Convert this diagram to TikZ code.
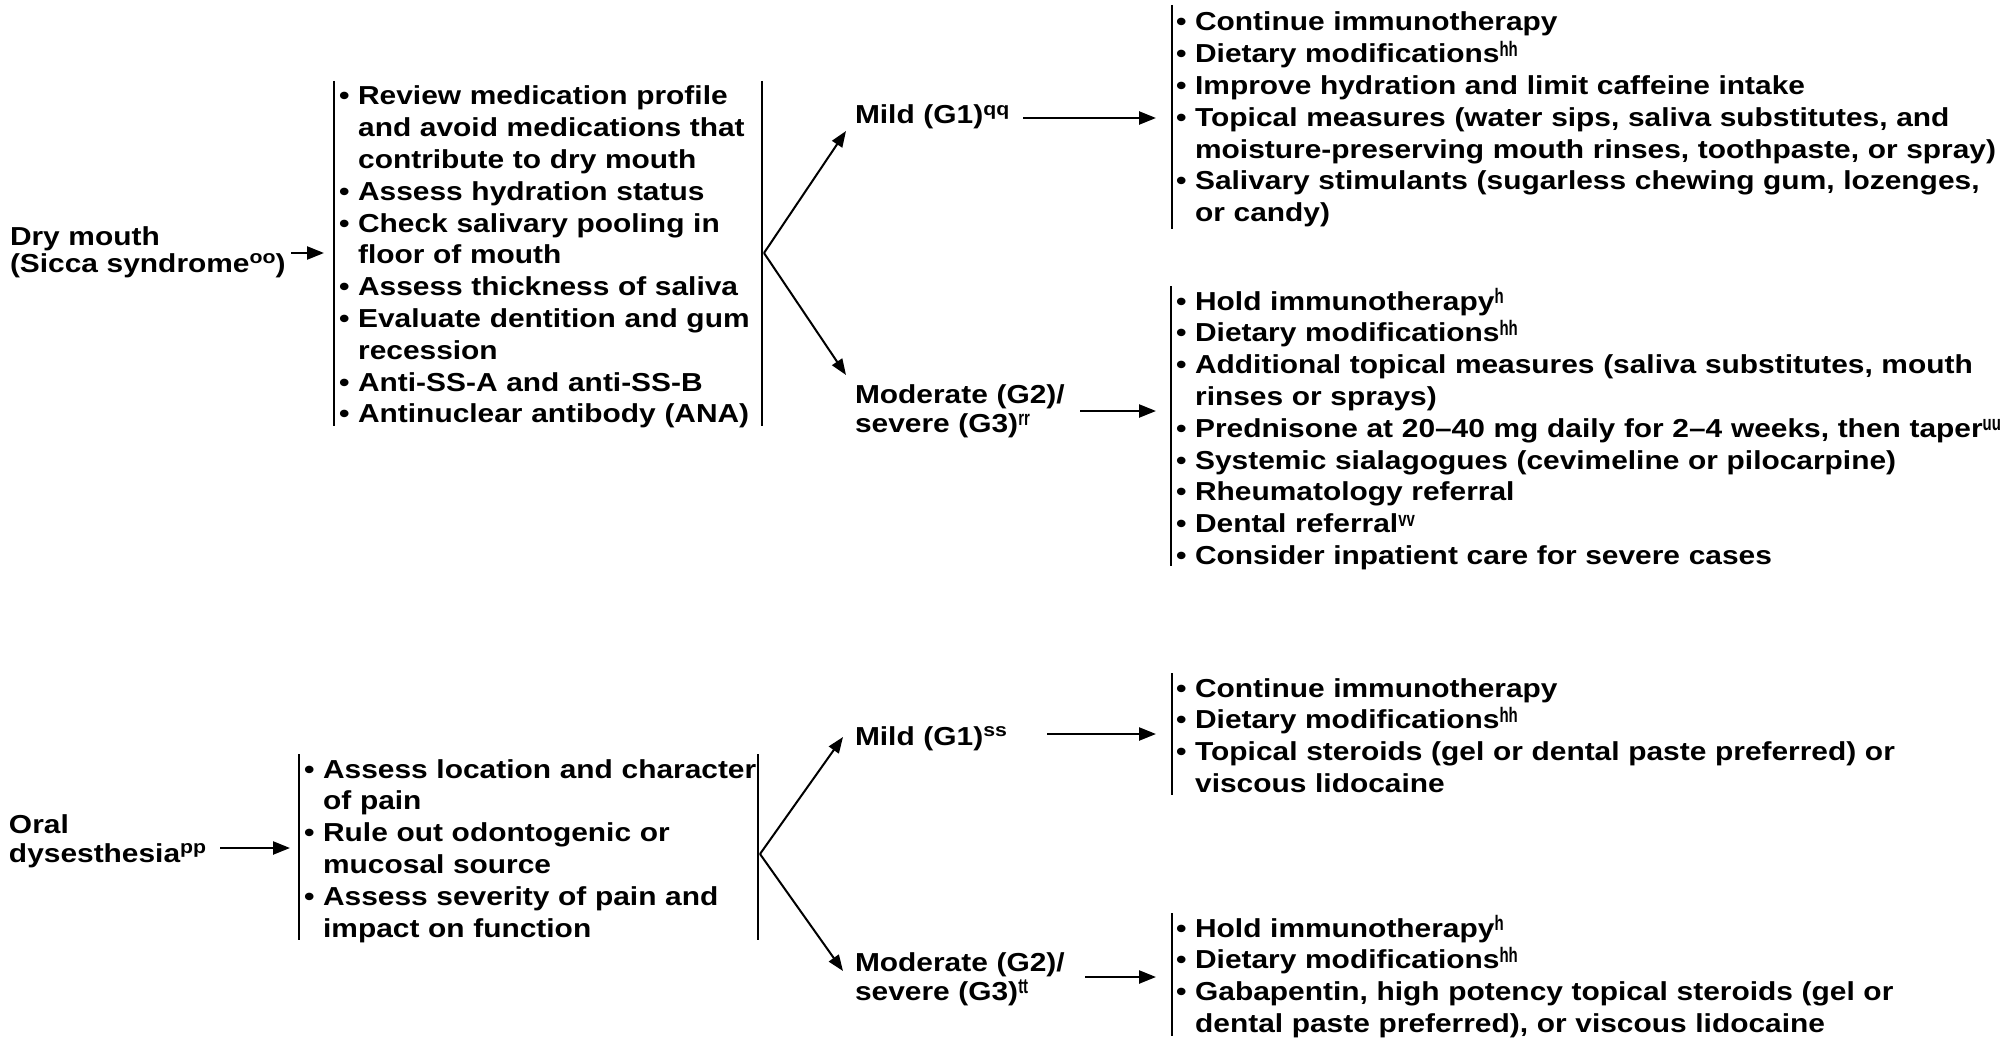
\documentclass[tikz,border=0pt]{standalone}
\usepackage{fontspec}
\setmainfont{Liberation Sans}[FakeStretch=1.15]
\usetikzlibrary{arrows.meta}
\newcommand\fs{\fontsize{26}{31.8}\selectfont\bfseries\lineskiplimit=-100pt}
\newcommand\lfs{\fontsize{26}{29}\selectfont\bfseries\lineskiplimit=-100pt}
\newcommand\dfs{\fontsize{26}{27.5}\selectfont\bfseries\lineskiplimit=-100pt}
\newcommand\st{\rule{0pt}{25pt}}
\newcommand\bu{•\ }
\newcommand\ind{\hphantom{•\ }}
\newcommand\sups[1]{\raisebox{0.33em}{\fontsize{18.5}{18.5}\selectfont #1}}
\newcommand\nsup[1]{\raisebox{0.24em}{\fontsize{21}{21}\selectfont\scalebox{0.62}[1]{#1}}}
\tikzset{
  txt/.style={inner sep=0pt, outer sep=0pt, anchor=north west, align=left, text width=880pt, font=\fs},
  lbl/.style={txt, font=\lfs},
  dlbl/.style={txt, font=\dfs},
  bar/.style={line width=2.4pt},
  branch/.style={line width=2pt, -{Triangle[length=16pt,width=12pt]}},
  arr/.style={line width=2.4pt, -{Triangle[length=17pt,width=13pt]}}
}
\begin{document}
\begin{tikzpicture}[x=1pt,y=-1pt]
\useasboundingbox (0,0) rectangle (2011,1038);
% ---------- top: dry mouth ----------
\node[dlbl] (dry) at (10,220) {\st Dry mouth\\(Sicca syndrome\sups{oo})};
\node[txt] (b1) at (339,80) {\st\bu Review medication profile\\
\ind and avoid medications that\\
\ind contribute to dry mouth\\
\bu Assess hydration status\\
\bu Check salivary pooling in\\
\ind floor of mouth\\
\bu Assess thickness of saliva\\
\bu Evaluate dentition and gum\\
\ind recession\\
\bu Anti-SS-A and anti-SS-B\\
\bu Antinuclear antibody (ANA)};
\coordinate (b1lt) at (334,81); \coordinate (b1lb) at (334,426);
\coordinate (b1rt) at (762,81); \coordinate (b1rb) at (762,426);
\draw[bar] (b1lt) -- (b1lb);
\draw[bar] (b1rt) -- (b1rb);
\coordinate (a1s) at (291,253); \coordinate (a1e) at (324,253);
\draw[arr] (a1s) -- (a1e);
\coordinate (v1) at (764,253);
\coordinate (t1a) at (846,131); \coordinate (t1b) at (846,375);
\draw[branch] (v1) -- (t1a);
\draw[branch] (v1) -- (t1b);
\node[lbl] (mild1) at (855,99) {\st Mild (G1)\sups{qq}};
\node[lbl] (mod1) at (855,378) {\st Moderate (G2)/\\severe (G3)\nsup{rr}};
\coordinate (a2s) at (1023,118); \coordinate (a2e) at (1156,118);
\draw[arr] (a2s) -- (a2e);
\coordinate (a3s) at (1080,411); \coordinate (a3e) at (1156,411);
\draw[arr] (a3s) -- (a3e);
\node[txt] (b2) at (1176,6) {\st\bu Continue immunotherapy\\
\bu Dietary modifications\nsup{hh}\\
\bu Improve hydration and limit caffeine intake\\
\bu Topical measures (water sips, saliva substitutes, and\\
\ind moisture-preserving mouth rinses, toothpaste, or spray)\\
\bu Salivary stimulants (sugarless chewing gum, lozenges,\\
\ind or candy)};
\coordinate (b2t) at (1172,5); \coordinate (b2b) at (1172,229);
\draw[bar] (b2t) -- (b2b);
\node[txt] (b4) at (1176,285) {\st\bu Hold immunotherapy\nsup{h}\\
\bu Dietary modifications\nsup{hh}\\
\bu Additional topical measures (saliva substitutes, mouth\\
\ind rinses or sprays)\\
\bu Prednisone at 20–40 mg daily for 2–4 weeks, then taper\nsup{uu}\\
\bu Systemic sialagogues (cevimeline or pilocarpine)\\
\bu Rheumatology referral\\
\bu Dental referral\nsup{vv}\\
\bu Consider inpatient care for severe cases};
\coordinate (b4t) at (1171,286); \coordinate (b4b) at (1171,566);
\draw[bar] (b4t) -- (b4b);
% ---------- bottom: oral dysesthesia ----------
\node[lbl] (oral) at (9,808) {\st Oral\\dysesthesia\sups{pp}};
\coordinate (a4s) at (220,848); \coordinate (a4e) at (290,848);
\draw[arr] (a4s) -- (a4e);
\node[txt] (b3) at (304,753) {\st\bu Assess location and character\\
\ind of pain\\
\bu Rule out odontogenic or\\
\ind mucosal source\\
\bu Assess severity of pain and\\
\ind impact on function};
\coordinate (b3lt) at (299,754); \coordinate (b3lb) at (299,940);
\coordinate (b3rt) at (758,754); \coordinate (b3rb) at (758,940);
\draw[bar] (b3lt) -- (b3lb);
\draw[bar] (b3rt) -- (b3rb);
\coordinate (v2) at (760,854);
\coordinate (t2a) at (843,737); \coordinate (t2b) at (843,971);
\draw[branch] (v2) -- (t2a);
\draw[branch] (v2) -- (t2b);
\node[lbl] (mild2) at (855,720) {\st Mild (G1)\sups{ss}};
\node[lbl] (mod2) at (855,946) {\st Moderate (G2)/\\severe (G3)\nsup{tt}};
\coordinate (a5s) at (1047,734); \coordinate (a5e) at (1156,734);
\draw[arr] (a5s) -- (a5e);
\coordinate (a6s) at (1085,977); \coordinate (a6e) at (1156,977);
\draw[arr] (a6s) -- (a6e);
\node[txt] (b5) at (1176,672) {\st\bu Continue immunotherapy\\
\bu Dietary modifications\nsup{hh}\\
\bu Topical steroids (gel or dental paste preferred) or\\
\ind viscous lidocaine};
\coordinate (b5t) at (1172,673); \coordinate (b5b) at (1172,795);
\draw[bar] (b5t) -- (b5b);
\node[txt] (b6) at (1176,912) {\st\bu Hold immunotherapy\nsup{h}\\
\bu Dietary modifications\nsup{hh}\\
\bu Gabapentin, high potency topical steroids (gel or\\
\ind dental paste preferred), or viscous lidocaine};
\coordinate (b6t) at (1172,913); \coordinate (b6b) at (1172,1036);
\draw[bar] (b6t) -- (b6b);
\end{tikzpicture}
\end{document}
